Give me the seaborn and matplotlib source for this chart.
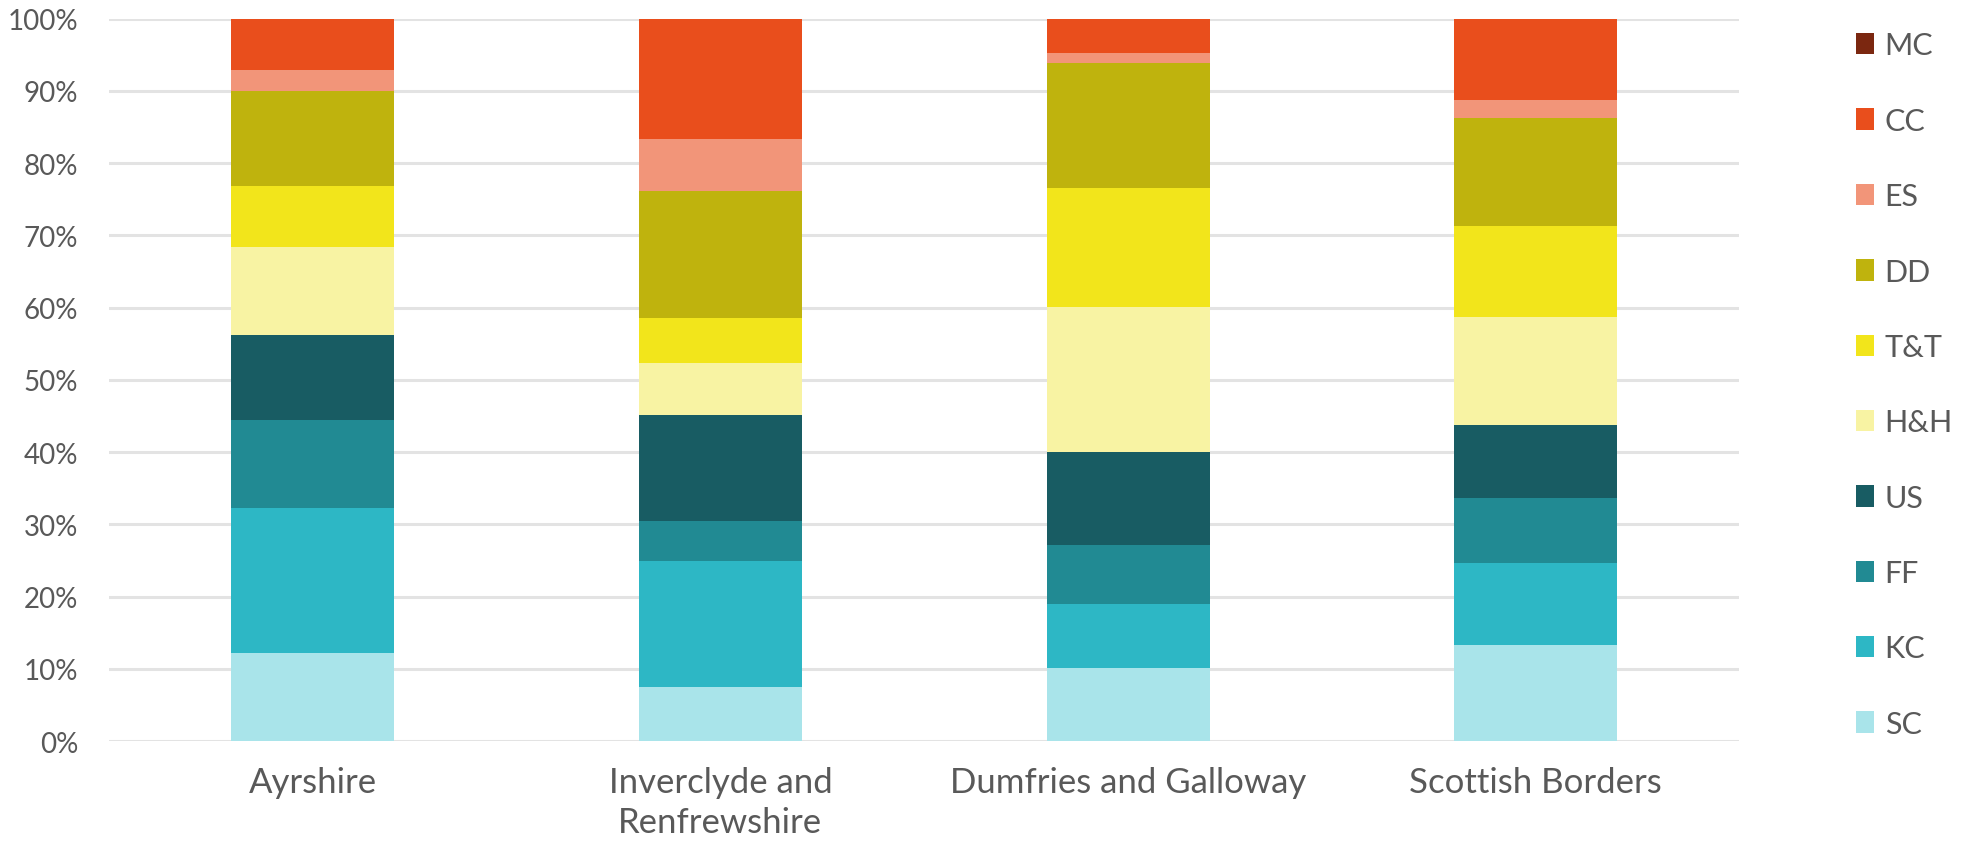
import matplotlib
matplotlib.use("Agg")
import matplotlib.pyplot as plt
from matplotlib.patches import Patch
from matplotlib.ticker import PercentFormatter
import seaborn as sns
import pandas as pd
import numpy as np

regions = ["Ayrshire", "Inverclyde and\nRenfrewshire", "Dumfries and Galloway", "Scottish Borders"]
series = ["SC", "KC", "FF", "US", "H&H", "T&T", "DD", "ES", "CC", "MC"]
SC = [12.2, 7.5, 10.1, 13.3]
KC = [20.0, 17.4, 8.9, 11.4]
FF = [12.2, 5.6, 8.2, 8.9]
US = [11.8, 14.7, 12.8, 10.2]
HH = [12.2, 7.1, 20.1, 14.9]
TT = [8.5, 6.3, 16.4, 12.6]
DD = [13.1, 17.6, 17.4, 15.0]
ES = [2.9, 7.1, 1.4, 2.5]
CC = [7.1, 16.7, 4.7, 11.2]
MC = [0.0, 0.0, 0.0, 0.0]
values = [SC, KC, FF, US, HH, TT, DD, ES, CC, MC]
colors = ["#a9e4ea", "#2db7c5", "#218a93", "#185c63", "#f8f3a3",
          "#f2e51b", "#bfb30d", "#f29579", "#e94e1c", "#7b2710"]

df = pd.DataFrame({"region": regions})
cum = np.zeros(len(regions))
for name, vals in zip(series, values):
    cum = cum + np.array(vals)
    df[name] = cum
# normalise to 100%
total = df[series[-1]].values.copy()
for name in series:
    df[name] = df[name] / total * 100

sns.set_theme(style="white")
plt.rcParams["font.family"] = ["Lato", "DejaVu Sans"]

fig = plt.figure(figsize=(19.74, 8.54), dpi=100)
ax = fig.add_axes([0.0552, 0.131, 0.826, 0.846])

for name, col in reversed(list(zip(series, colors))):
    sns.barplot(data=df, x="region", y=name, color=col, width=0.40,
                saturation=1, ax=ax, zorder=3, linewidth=0)

ax.set_ylim(0, 100)
ax.set_xlim(-0.5, 3.5)
ax.set_yticks(np.arange(0, 101, 10))
ax.yaxis.set_major_formatter(PercentFormatter(decimals=0))
ax.grid(axis="y", color="#e3e3e3", linewidth=2.2, zorder=0)
ax.set_axisbelow(True)
for s in ax.spines.values():
    s.set_visible(False)
ax.set_xlabel("")
ax.set_ylabel("")
ax.tick_params(axis="y", labelsize=20, labelcolor="#595959", length=0, pad=22)
ax.tick_params(axis="x", labelsize=25, labelcolor="#595959", length=0, pad=18)
for t in ax.get_xticklabels():
    t.set_linespacing(1.3)

handles = [Patch(facecolor=c, edgecolor="none", label=s)
           for s, c in reversed(list(zip(series, colors)))]
fig.legend(handles=handles, loc="upper left", bbox_to_anchor=(0.940, 0.962),
           frameon=False, fontsize=22, labelcolor="#595959",
           handlelength=0.6, handleheight=0.7, handletextpad=0.35,
           labelspacing=1.55, borderpad=0, borderaxespad=0)

fig.savefig("out.png", dpi=100)
